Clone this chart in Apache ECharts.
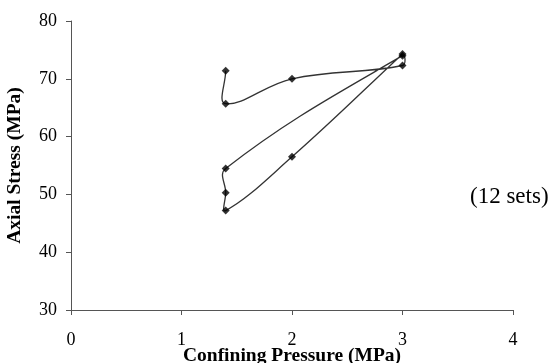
<!DOCTYPE html>
<html>
<head>
<meta charset="utf-8">
<script src="https://cdn.jsdelivr.net/npm/echarts@6/dist/echarts.min.js"></script>
<style>html,body{margin:0;padding:0;background:#fff}#c{width:557px;height:363px}</style>
</head>
<body>
<div id="c"></div>
<script>
var confiningPressure = [1.4, 1.4, 2.0, 3.0, 3.0, 1.4, 1.4, 1.4, 2.0, 3.0];
var axialStress = [71.4, 65.7, 70.0, 72.3, 74.0, 54.5, 50.3, 47.2, 56.5, 74.3];
var xTicks = [0, 1, 2, 3, 4];
var yTicks = [30, 40, 50, 60, 70, 80];
var annotation = '(12 sets)';

var points = confiningPressure.map(function (x, i) { return [x, axialStress[i]]; });
var font = 'Liberation Serif';

// Smoothed path through the points (chord-weighted tangents), computed in pixel space
function renderSmooth(params, api) {
  if (params.dataIndex !== 0) return;
  var p = points.map(function (d) { return api.coord(d); });
  var n = p.length, s = 0.4;
  function dist(a, b) { return Math.sqrt((a[0] - b[0]) * (a[0] - b[0]) + (a[1] - b[1]) * (a[1] - b[1])); }
  var cpIn = [], cpOut = [];
  for (var i = 0; i < n; i++) {
    var prev = p[Math.max(i - 1, 0)], next = p[Math.min(i + 1, n - 1)], cur = p[i];
    var vx = next[0] - prev[0], vy = next[1] - prev[1];
    var d0 = dist(prev, cur), d1 = dist(cur, next);
    var r = (d0 + d1) > 0 ? d1 / (d0 + d1) : 0.5;
    cpOut[i] = [cur[0] + vx * s * r, cur[1] + vy * s * r];
    cpIn[i] = [cur[0] - vx * s * (1 - r), cur[1] - vy * s * (1 - r)];
  }
  var d = 'M' + p[0][0] + ' ' + p[0][1];
  for (var j = 0; j < n - 1; j++) {
    d += ' C' + cpOut[j][0] + ' ' + cpOut[j][1] + ' ' + cpIn[j + 1][0] + ' ' + cpIn[j + 1][1] + ' ' + p[j + 1][0] + ' ' + p[j + 1][1];
  }
  return {
    type: 'path',
    shape: {pathData: d},
    style: {fill: null, stroke: '#333', lineWidth: 1.3}
  };
}

var chart = echarts.init(document.getElementById('c'), null, {renderer: 'canvas'});
chart.setOption({
  animation: false,
  backgroundColor: '#fff',
  grid: {left: 71, right: 44, top: 21, bottom: 53, outerBoundsMode: 'none', containLabel: false},
  xAxis: {
    type: 'value', min: xTicks[0], max: xTicks[xTicks.length - 1], interval: 1,
    name: 'Confining Pressure (MPa)', nameLocation: 'middle', nameGap: 36, nameMoveOverlap: false,
    nameTextStyle: {fontFamily: font, fontWeight: 'bold', fontSize: 19.5, color: '#000', verticalAlign: 'top'},
    axisLine: {lineStyle: {color: '#555', width: 1}},
    axisTick: {show: true, inside: false, length: 5, lineStyle: {color: '#555'}},
    axisLabel: {fontFamily: font, fontSize: 18, color: '#000', margin: 21},
    splitLine: {show: false}
  },
  yAxis: {
    type: 'value', min: yTicks[0], max: yTicks[yTicks.length - 1], interval: 10,
    name: 'Axial Stress (MPa)', nameLocation: 'middle', nameGap: 46, nameRotate: 90, nameMoveOverlap: false,
    nameTextStyle: {fontFamily: font, fontWeight: 'bold', fontSize: 19.5, color: '#000'},
    axisLine: {show: true, lineStyle: {color: '#555', width: 1}},
    axisTick: {show: true, inside: false, length: 5, lineStyle: {color: '#555'}},
    axisLabel: {fontFamily: font, fontSize: 18, color: '#000', margin: 14},
    splitLine: {show: false}
  },
  series: [{
    type: 'custom',
    coordinateSystem: 'cartesian2d',
    data: points,
    encode: {x: 0, y: 1},
    renderItem: renderSmooth,
    silent: true,
    z: 1
  }, {
    type: 'scatter',
    data: points,
    symbol: 'diamond',
    symbolSize: 8,
    itemStyle: {color: '#000'},
    z: 2
  }],
  graphic: [{
    type: 'text', left: 470, top: 185,
    style: {text: annotation, fontFamily: font, fontSize: 23, fill: '#000'}
  }]
});
</script>
</body>
</html>
